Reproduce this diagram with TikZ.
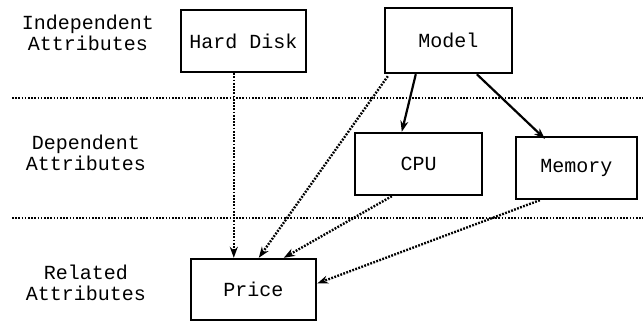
\documentclass[tikz,border=0pt]{standalone}
\usepackage{fontspec}
\setmonofont{Liberation Mono}
\usetikzlibrary{arrows.meta}
\usetikzlibrary{calc,positioning}

\tikzset{
    box/.style={draw, line width=2.4pt, minimum height=62pt, inner sep=2pt},
    level/.style={align=center, font=\ttfamily\fontsize{20}{21}\selectfont},
    sep/.style={dash pattern=on 1.6pt off 1.6pt, line width=1.8pt},
    det/.style={-{Stealth[length=11pt,width=8pt]}, line width=2.2pt},
    dep/.style={-{Stealth[length=11pt,width=8pt]}, dash pattern=on 1.8pt off 1.4pt, line width=2.4pt},
}

\begin{document}
\begin{tikzpicture}[>=Stealth, x=1pt, y=-1pt, font=\ttfamily\fontsize{20}{23}\selectfont]
        \useasboundingbox (0,0) rectangle (643,322);

        % level names
        \node[level] (indep) at (88,33) {Independent\\Attributes};
        \node[level] (dep) at (86,153) {Dependent\\Attributes};
        \node[level] (rel) at (86,283) {Related\\Attributes};

        % level separators
        \coordinate (s1a) at (12,98);  \coordinate (s1b) at (643,98);
        \coordinate (s2a) at (12,218); \coordinate (s2b) at (643,218);
        \draw[sep] (s1a) -- (s1b);
        \draw[sep] (s2a) -- (s2b);

        % attributes
        \node[box, minimum width=125pt] (hd) at (243.5,41) {Hard Disk};
        \node[box, minimum width=127pt, minimum height=65pt] (model) at (448.5,40.5) {Model};
        \node[box, minimum width=127pt] (cpu) at (418.5,164) {CPU};
        \node[box, minimum width=121pt] (mem) at (576.5,168) {Memory};
        \node[box, minimum width=125pt, minimum height=61pt] (price) at (253.5,289.5) {Price};

        \draw[det] ($(model.south west)+(32,0)$) to ($(cpu.north west)+(48,0)$);
        \draw[det] ($(model.south west)+(93,0)$) to ($(mem.north west)+(30,3)$);

        \draw[dep] ($(hd.south west)+(54,0)$) to ($(price.north west)+(44,0)$);
        \draw[dep] ($(model.south west)+(4,2)$) to ($(price.north west)+(69,0)$);
        \draw[dep] ($(cpu.south west)+(38,0)$) to ($(price.north west)+(94,0)$);
        \draw[dep] ($(mem.south west)+(25,0)$) to ($(price.east)+(0,-6)$);
    \end{tikzpicture}
\end{document}
